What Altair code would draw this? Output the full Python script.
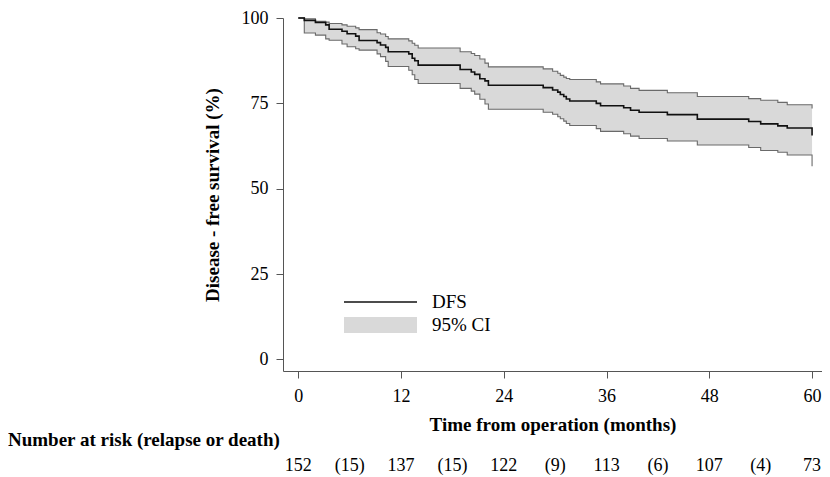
import altair as alt
import pandas as pd

# Kaplan-Meier step points (months, %)
months = [0, 0.7, 2.0, 3.2, 3.6, 5.1, 5.7, 6.7, 7.1, 9.2, 9.6, 10.2, 10.5, 12.9, 13.3,
          13.6, 14.0, 18.9, 20.2, 20.6, 21.2, 21.8, 22.2, 28.6, 29.7, 30.3, 30.6, 31.0,
          31.3, 31.7, 34.8, 35.3, 38.0, 38.8, 39.8, 43.1, 46.6, 52.6, 54.0, 56.0, 57.1, 60.0]
dfs = [100, 99.3, 98.7, 98.0, 96.7, 96.1, 95.4, 94.7, 93.4, 92.8, 92.1, 91.4, 90.1, 89.5, 88.2,
       87.5, 86.2, 84.9, 84.2, 83.5, 82.2, 81.6, 80.3, 79.6, 78.9, 78.3, 77.6, 77.0,
       76.3, 75.7, 75.0, 74.3, 73.7, 73.0, 72.4, 71.7, 70.4, 69.7, 69.0, 68.4, 67.8, 65.6]
ci_low = [100, 95.6, 95.0, 93.9, 93.5, 92.4, 91.6, 91.0, 90.6, 89.5, 88.7, 87.3, 85.8, 84.7, 83.4,
          82.0, 80.8, 79.4, 78.6, 77.7, 76.2, 74.8, 73.3, 72.4, 71.8, 71.1, 70.5, 69.8,
          69.1, 68.5, 67.6, 66.8, 66.1, 65.4, 64.7, 64.0, 62.8, 62.1, 61.2, 60.7, 59.9, 56.6]
ci_high = [100, 99.8, 99.0, 98.8, 98.4, 98.0, 97.6, 97.1, 96.6, 95.7, 95.3, 94.6, 93.9, 93.3, 92.6,
           92.0, 91.2, 90.1, 89.6, 89.0, 88.0, 86.8, 85.7, 85.1, 84.4, 83.8, 83.2, 82.7,
           82.3, 82.0, 81.3, 80.7, 80.1, 79.4, 78.8, 78.1, 77.0, 76.4, 75.9, 75.3, 74.6, 73.5]

risk_month = [0, 6, 12, 18, 24, 30, 36, 42, 48, 54, 60]
risk_text = ["152", "(15)", "137", "(15)", "122", "(9)", "113", "(6)", "107", "(4)", "73"]
x_ticks = [0, 12, 24, 36, 48, 60]
y_ticks = [0, 25, 50, 75, 100]
legend_labels = ["DFS", "95% CI"]
risk_title = ["Number at risk (relapse or death)"]

FONT = "Liberation Serif"
W, H = 539, 353
AXIS_C = "#555555"

df = pd.DataFrame({"t": months, "s": dfs, "lo": ci_low, "hi": ci_high})
x_scale = alt.Scale(domain=[-1.787, 61.16], nice=False, zero=False)
y_scale = alt.Scale(domain=[-3.37, 100], nice=False, zero=False)

base = alt.Chart(df)

band = base.mark_area(interpolate="step-after", color="#d9d9d9", opacity=1).encode(
    x=alt.X("t:Q", scale=x_scale,
            axis=alt.Axis(values=x_ticks, title="Time from operation (months)",
                          labelPadding=9, titlePadding=10, tickSize=7)),
    y=alt.Y("lo:Q", scale=y_scale,
            axis=alt.Axis(values=y_ticks, title="Disease - free survival (%)",
                          labelPadding=8, titlePadding=19, tickSize=7)),
    y2="hi:Q",
)
lo_line = base.mark_line(interpolate="step-after", color="#6a6a6a", strokeWidth=1.1).encode(
    x=alt.X("t:Q", scale=x_scale), y=alt.Y("lo:Q", scale=y_scale))
hi_line = base.mark_line(interpolate="step-after", color="#6a6a6a", strokeWidth=1.1).encode(
    x=alt.X("t:Q", scale=x_scale), y=alt.Y("hi:Q", scale=y_scale))
s_line = base.mark_line(interpolate="step-after", color="#111111", strokeWidth=1.6).encode(
    x=alt.X("t:Q", scale=x_scale), y=alt.Y("s:Q", scale=y_scale))

# legend
leg_line = alt.Chart(pd.DataFrame({"lab": [legend_labels[0]]})).mark_rule(
    color="#111111", strokeWidth=1.4).encode(
    x=alt.value(61), x2=alt.value(134), y=alt.value(284))
leg_box = alt.Chart(pd.DataFrame({"lab": [legend_labels[1]]})).mark_rect(
    color="#d9d9d9").encode(
    x=alt.value(61), x2=alt.value(134), y=alt.value(299), y2=alt.value(315))
leg_t1 = alt.Chart(pd.DataFrame({"lab": [legend_labels[0]]})).mark_text(
    font=FONT, fontSize=19, align="left", baseline="middle", color="black").encode(
    text="lab:N", x=alt.value(149), y=alt.value(284))
leg_t2 = alt.Chart(pd.DataFrame({"lab": [legend_labels[1]]})).mark_text(
    font=FONT, fontSize=19, align="left", baseline="middle", color="black").encode(
    text="lab:N", x=alt.value(149), y=alt.value(307))

# number at risk
risk = alt.Chart(pd.DataFrame({"m": risk_month, "n": risk_text})).mark_text(
    font=FONT, fontSize=18, baseline="middle", align="center", color="black").encode(
    x=alt.X("m:Q", scale=x_scale), y=alt.value(448), text="n:N")
risk_lab = alt.Chart(pd.DataFrame({"lab": risk_title})).mark_text(
    font=FONT, fontSize=19, fontWeight="bold", baseline="middle", align="left", color="black").encode(
    x=alt.value(-275), y=alt.value(422), text="lab:N")

chart = alt.layer(band, lo_line, hi_line, s_line, leg_box, leg_line, leg_t1, leg_t2,
                  risk, risk_lab).properties(
    width=W, height=H,
    autosize=alt.AutoSizeParams(type="none"),
    padding={"left": 275, "top": 10, "right": 0, "bottom": 104},
).configure_view(stroke=None).configure_axis(
    grid=False, domainColor=AXIS_C, tickColor=AXIS_C, domainWidth=1, tickWidth=1,
    labelFont=FONT, labelFontSize=18, labelColor="black",
    titleFont=FONT, titleFontSize=19, titleFontWeight="bold", titleColor="black",
)

chart.save("out.html", embed_options={"renderer": "svg", "actions": False})
